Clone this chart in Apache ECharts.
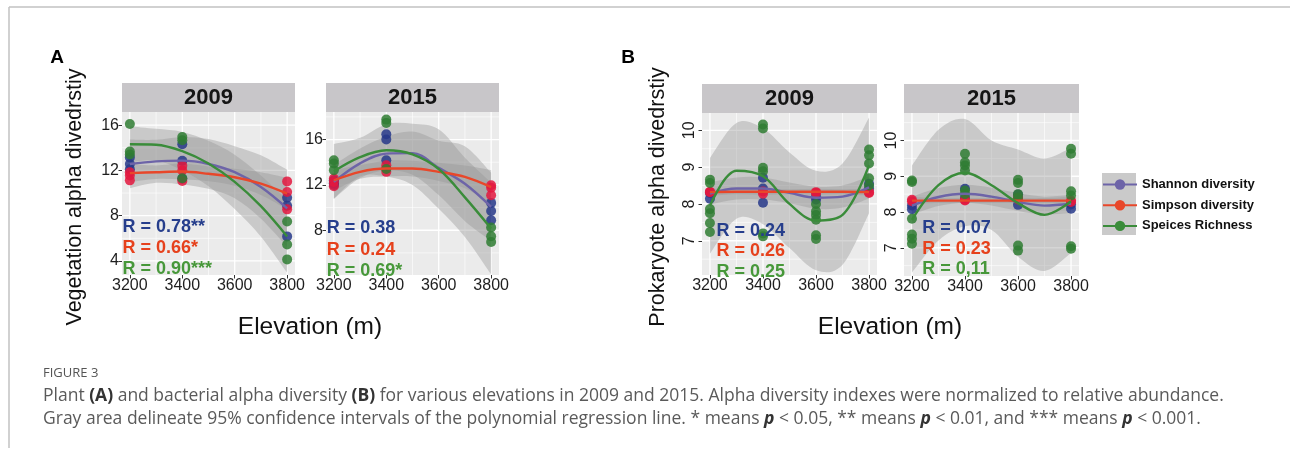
<!DOCTYPE html>
<html><head><meta charset="utf-8">
<script src="https://cdn.jsdelivr.net/npm/echarts@6/dist/echarts.min.js"></script>
<style>html,body{margin:0;padding:0;background:#fff}#c{width:1290px;height:452px}</style>
</head><body><div id="c"></div><script>
// ---------------- DATA ----------------
const elevations = [3200, 3300, 3400, 3500, 3600, 3700, 3800];
const metricNames = ['Shannon diversity', 'Simpson diversity', 'Speices Richness'];
const xTickValues = [3200, 3400, 3600, 3800];
const xMinorValues = [3300, 3500, 3700];
const yTicksA09 = [4, 8, 12, 16];   const yMinorA09 = [6, 10, 14];
const yTicksA15 = [8, 12, 16];      const yMinorA15 = [6, 10, 14, 18];
const yTicksB09 = [7, 8, 9, 10];    const yMinorB09 = [6.5, 7.5, 8.5, 9.5];
const yTicksB15 = [7, 8, 9, 10];    const yMinorB15 = [6.5, 7.5, 8.5, 9.5, 10.5];
const panelYears = ['2009', '2015', '2009', '2015'];

// Observed points [elevation, value]
const ptsA09Shannon  = [[3200,13.15],[3200,12.57],[3200,12.1],[3400,14.31],[3400,12.86],[3400,11.26],[3800,9.58],[3800,8.88],[3800,6.17]];
const ptsA09Simpson  = [[3200,11.84],[3200,11.55],[3200,11.12],[3400,12.42],[3400,11.99],[3400,11.06],[3800,11.03],[3800,10.1],[3800,8.56]];
const ptsA09Richness = [[3200,16.1],[3200,13.67],[3200,13.4],[3400,14.95],[3400,14.66],[3400,11.3],[3800,7.48],[3800,5.45],[3800,4.14]];

const ptsA15Shannon  = [[3200,12.4],[3200,12.15],[3200,12.0],[3400,16.47],[3400,16.0],[3400,14.18],[3800,10.41],[3800,9.7],[3800,8.88]];
const ptsA15Simpson  = [[3200,12.56],[3200,12.26],[3200,11.88],[3400,13.74],[3400,13.44],[3400,13.15],[3800,11.97],[3800,11.75],[3800,11.09]];
const ptsA15Richness = [[3200,14.18],[3200,13.88],[3200,13.3],[3400,17.76],[3400,17.47],[3400,13.4],[3800,8.24],[3800,7.47],[3800,6.97]];

const ptsB09Shannon  = [[3200,8.14],[3200,8.3],[3400,8.71],[3400,8.42],[3400,8.03],[3600,8.12],[3600,8.2],[3800,8.55],[3800,8.42]];
const ptsB09Simpson  = [[3200,8.32],[3200,8.33],[3400,8.28],[3400,8.34],[3600,8.32],[3600,8.3],[3800,8.3],[3800,8.32]];
const ptsB09Richness = [[3200,8.66],[3200,8.57],[3200,7.86],[3200,7.75],[3200,7.48],[3200,7.24],
                        [3400,10.16],[3400,10.05],[3400,8.98],[3400,8.89],[3400,7.2],[3400,7.12],
                        [3600,8.0],[3600,7.8],[3600,7.7],[3600,7.57],[3600,7.15],[3600,7.05],
                        [3800,9.48],[3800,9.32],[3800,9.1],[3800,8.7],[3800,8.5]];

const ptsB15Shannon  = [[3200,8.18],[3200,8.08],[3400,8.65],[3400,8.4],[3600,8.49],[3600,8.2],[3800,8.21],[3800,8.09]];
const ptsB15Simpson  = [[3200,8.34],[3200,8.3],[3400,8.34],[3400,8.32],[3600,8.4],[3600,8.35],[3800,8.32],[3800,8.28]];
const ptsB15Richness = [[3200,8.88],[3200,8.84],[3200,7.81],[3200,7.37],[3200,7.25],[3200,7.11],
                        [3400,9.63],[3400,9.39],[3400,9.3],[3400,9.16],[3400,8.6],[3400,8.5],
                        [3600,8.9],[3600,8.81],[3600,8.5],[3600,8.4],[3600,7.06],[3600,6.92],
                        [3800,9.77],[3800,9.63],[3800,8.58],[3800,8.46],[3800,7.04],[3800,6.97]];

// Regression lines and 95% CI bands read at each elevation in `elevations`
const fitA09Shannon  = [12.57, 12.8, 12.86, 12.57, 11.84, 10.53, 8.65];
const loA09Shannon   = [10.42, 10.9, 10.76, 10.37, 9.54, 7.73, 5.25];
const hiA09Shannon   = [14.72, 14.7, 14.96, 14.77, 14.14, 13.33, 12.05];
const fitA09Simpson  = [11.76, 11.84, 11.9, 11.7, 11.4, 10.83, 9.95];
const loA09Simpson   = [10.96, 11.24, 11.2, 11.05, 10.65, 9.83, 8.55];
const hiA09Simpson   = [12.56, 12.44, 12.6, 12.35, 12.15, 11.83, 11.35];
const fitA09Richness = [14.31, 14.27, 13.7, 12.61, 10.99, 8.84, 6.17];
const loA09Richness  = [12.71, 12.87, 12.0, 10.61, 8.59, 6.14, 2.97];
const hiA09Richness  = [15.91, 15.67, 15.4, 14.61, 13.39, 11.54, 9.37];

const fitA15Shannon  = [12.26, 13.9, 14.76, 14.8, 13.5, 12.1, 10.06];
const loA15Shannon   = [10.76, 12.6, 13.26, 12.9, 11.1, 8.8, 7.06];
const hiA15Shannon   = [13.76, 15.2, 16.26, 16.7, 15.9, 15.4, 13.06];
const fitA15Simpson  = [12.4, 13.15, 13.44, 13.44, 13.15, 12.7, 11.8];
const loA15Simpson   = [11.5, 12.55, 12.74, 12.74, 12.35, 11.7, 10.3];
const hiA15Simpson   = [13.3, 13.75, 14.14, 14.14, 13.95, 13.7, 13.3];
const fitA15Richness = [13.2, 14.45, 15.05, 14.7, 13.4, 10.9, 8.15];
const loA15Richness  = [10.8, 12.75, 12.75, 12.0, 9.9, 7.4, 4.1];
const hiA15Richness  = [15.6, 16.15, 17.35, 17.4, 16.9, 14.4, 12.2];

const fitB09Shannon  = [8.28, 8.42, 8.42, 8.3, 8.17, 8.2, 8.45];
const loB09Shannon   = [7.98, 8.12, 8.12, 8.02, 7.87, 7.9, 8.15];
const hiB09Shannon   = [8.58, 8.72, 8.72, 8.58, 8.47, 8.5, 8.75];
const fitB09Simpson  = [8.32, 8.33, 8.33, 8.33, 8.33, 8.33, 8.32];
const loB09Simpson   = [8.22, 8.26, 8.25, 8.26, 8.25, 8.26, 8.22];
const hiB09Simpson   = [8.42, 8.4, 8.41, 8.4, 8.41, 8.4, 8.42];
const fitB09Richness = [7.95, 8.9, 8.75, 8.0, 7.55, 7.7, 9.05];
const loB09Richness  = [6.65, 7.6, 7.45, 6.8, 6.2, 6.35, 7.75];
const hiB09Richness  = [9.25, 10.2, 10.05, 9.4, 8.9, 9.1, 10.35];

const fitB15Shannon  = [8.18, 8.42, 8.51, 8.43, 8.28, 8.18, 8.23];
const loB15Shannon   = [7.93, 8.17, 8.26, 8.18, 8.03, 7.93, 7.98];
const hiB15Shannon   = [8.43, 8.67, 8.76, 8.68, 8.53, 8.43, 8.48];
const fitB15Simpson  = [8.32, 8.32, 8.32, 8.32, 8.32, 8.32, 8.32];
const loB15Simpson   = [8.22, 8.25, 8.25, 8.25, 8.25, 8.25, 8.22];
const hiB15Simpson   = [8.42, 8.39, 8.39, 8.39, 8.39, 8.39, 8.42];
const fitB15Richness = [7.78, 8.75, 9.1, 8.75, 8.25, 7.92, 8.3];
const loB15Richness  = [6.3, 7.2, 7.6, 7.5, 6.75, 6.35, 6.85];
const hiB15Richness  = [9.3, 10.3, 10.6, 10.0, 9.75, 9.5, 9.8];

const rA09 = ['R = 0.78**', 'R = 0.66*', 'R = 0.90***'];
const rA15 = ['R = 0.38', 'R = 0.24', 'R = 0.69*'];
const rB09 = ['R = 0.24', 'R = 0.26', 'R = 0.25'];
const rB15 = ['R = 0.07', 'R = 0.23', 'R = 0,11'];

// ---------------- STYLE / LAYOUT ----------------
const FONT = 'Liberation Sans, Arial, sans-serif';
const ptColors   = ['#27388a', '#e3173e', '#2f7d33'];
const lineColors = ['#6d64a8', '#e8472a', '#3a8c3a'];
const rColors    = ['#263e8c', '#e6411c', '#47983a'];
const bandFill = 'rgba(150,150,150,0.4)';

const panels = [
  {left:122, top:112, width:173, height:163, ymin:2.76, ymax:17.16, yTicks:yTicksA09, yMinor:yMinorA09, rot:0,
   pts:[ptsA09Shannon, ptsA09Simpson, ptsA09Richness], fit:[fitA09Shannon, fitA09Simpson, fitA09Richness],
   lo:[loA09Shannon, loA09Simpson, loA09Richness], hi:[hiA09Shannon, hiA09Simpson, hiA09Richness],
   r:rA09, rx:3172, ry:[7.0, 5.18, 3.32]},
  {left:326, top:112, width:173, height:163, ymin:4.05, ymax:18.43, yTicks:yTicksA15, yMinor:yMinorA15, rot:0,
   pts:[ptsA15Shannon, ptsA15Simpson, ptsA15Richness], fit:[fitA15Shannon, fitA15Simpson, fitA15Richness],
   lo:[loA15Shannon, loA15Simpson, loA15Richness], hi:[hiA15Shannon, hiA15Simpson, hiA15Richness],
   r:rA15, rx:3173, ry:[8.2, 6.28, 4.42]},
  {left:702, top:113, width:175, height:162, ymin:6.07, ymax:10.47, yTicks:yTicksB09, yMinor:yMinorB09, rot:90,
   pts:[ptsB09Shannon, ptsB09Simpson, ptsB09Richness], fit:[fitB09Shannon, fitB09Simpson, fitB09Richness],
   lo:[loB09Shannon, loB09Simpson, loB09Richness], hi:[hiB09Shannon, hiB09Simpson, hiB09Richness],
   r:rB09, rx:3225, ry:[7.27, 6.72, 6.16]},
  {left:904, top:113, width:175, height:163, ymin:6.21, ymax:10.77, yTicks:yTicksB15, yMinor:yMinorB15, rot:90,
   pts:[ptsB15Shannon, ptsB15Simpson, ptsB15Richness], fit:[fitB15Shannon, fitB15Simpson, fitB15Richness],
   lo:[loB15Shannon, loB15Simpson, loB15Richness], hi:[hiB15Shannon, hiB15Simpson, hiB15Richness],
   r:rB15, rx:3239, ry:[7.56, 6.96, 6.40]}
];

// Catmull-Rom rendering of a pixel polyline as cubic Bezier path segments
function splineSegments(pts) {
  let d = '';
  for (let k = 0; k < pts.length - 1; k++) {
    const p0 = pts[Math.max(k - 1, 0)], p1 = pts[k], p2 = pts[k + 1], p3 = pts[Math.min(k + 2, pts.length - 1)];
    const c1 = [p1[0] + (p2[0] - p0[0]) / 6, p1[1] + (p2[1] - p0[1]) / 6];
    const c2 = [p2[0] - (p3[0] - p1[0]) / 6, p2[1] - (p3[1] - p1[1]) / 6];
    d += ' C' + c1[0].toFixed(2) + ' ' + c1[1].toFixed(2) + ' ' + c2[0].toFixed(2) + ' ' + c2[1].toFixed(2) +
         ' ' + p2[0].toFixed(2) + ' ' + p2[1].toFixed(2);
  }
  return d;
}

const grids = [], xAxes = [], yAxes = [], series = [], graphics = [];
const tickFmt = v => String(v);

panels.forEach((p, i) => {
  grids.push({left:p.left, top:p.top, width:p.width, height:p.height, show:true,
              backgroundColor:'#ebebeb', borderWidth:0, containLabel:false});
  xAxes.push({gridIndex:i, type:'value', min:3170, max:3830,
    axisLine:{show:false}, splitLine:{show:false},
    axisTick:{show:true, length:3.5, customValues:xTickValues, lineStyle:{color:'#333', width:1}},
    axisLabel:{customValues:xTickValues, formatter:tickFmt, fontFamily:FONT, fontSize:16, color:'#1e1e1e', margin:3}});
  yAxes.push({gridIndex:i, type:'value', min:p.ymin, max:p.ymax,
    axisLine:{show:false}, splitLine:{show:false},
    axisTick:{show:true, length:3.5, customValues:p.yTicks, lineStyle:{color:'#333', width:1}},
    axisLabel:{customValues:p.yTicks, formatter:tickFmt, fontFamily:FONT, fontSize:16, color:'#1e1e1e',
               margin:p.rot ? 4 : 3, rotate:p.rot}});

  // gridlines
  const gl = [];
  xTickValues.forEach(v => gl.push([v, 0, 1]));
  xMinorValues.forEach(v => gl.push([v, 0, 0]));
  p.yTicks.forEach(v => gl.push([v, 1, 1]));
  p.yMinor.forEach(v => gl.push([v, 1, 0]));
  series.push({type:'custom', name:'gridlines' + i, xAxisIndex:i, yAxisIndex:i, z:1, silent:true,
    data: gl,
    renderItem: (params, api) => {
      const v = api.value(0), kind = api.value(1), major = api.value(2);
      const cs = params.coordSys;
      let shape;
      if (kind === 0) {
        const px = api.coord([v, (p.ymin + p.ymax) / 2])[0];
        shape = {x1:px, y1:cs.y, x2:px, y2:cs.y + cs.height};
      } else {
        const py = api.coord([3500, v])[1];
        shape = {x1:cs.x, y1:py, x2:cs.x + cs.width, y2:py};
      }
      return {type:'line', shape, style:{stroke:'#ffffff', lineWidth: major ? 1.3 : 0.6}};
    }});

  // confidence bands
  for (let m = 0; m < 3; m++) {
    const lo = p.lo[m], hi = p.hi[m];
    series.push({type:'custom', name:'band' + i + '_' + m, xAxisIndex:i, yAxisIndex:i, z:2, silent:true, clip:true,
      data: elevations.map((x, k) => [x, lo[k], hi[k]]),
      renderItem: (params, api) => {
        if (params.dataIndex !== 0) return null;
        const up = elevations.map((x, k) => api.coord([x, hi[k]]));
        const dn = elevations.map((x, k) => api.coord([x, lo[k]])).reverse();
        const d = 'M' + up[0][0] + ' ' + up[0][1] + splineSegments(up) +
                  ' L' + dn[0][0] + ' ' + dn[0][1] + splineSegments(dn) + ' Z';
        return {type:'path', shape:{pathData:d}, style:{fill:bandFill, stroke:null}};
      }});
  }
  for (let m = 0; m < 3; m++) {
    series.push({type:'scatter', name:'pts' + i + '_' + m, xAxisIndex:i, yAxisIndex:i, z:3, silent:true,
      symbolSize:10, itemStyle:{color:ptColors[m], opacity:0.85}, data:p.pts[m]});
  }
  for (let m = 0; m < 3; m++) {
    series.push({type:'line', name:metricNames[m], xAxisIndex:i, yAxisIndex:i, z:4, silent:true,
      smooth:0.35, showSymbol:false, symbol:'circle',
      lineStyle:{color:lineColors[m], width:2.4}, itemStyle:{color:lineColors[m]},
      data: elevations.map((x, k) => [x, p.fit[m][k]])});
  }

  // strip header
  graphics.push({type:'rect', shape:{x:p.left, y:p.top - 29, width:p.width, height:29},
    style:{fill:'#c8c6c9'}, z:0});
  graphics.push({type:'text', x:p.left + p.width / 2, y:p.top - 14.5,
    style:{text:panelYears[i], fontFamily:FONT, fontWeight:'bold', fontSize:22, fill:'#151515',
           textAlign:'center', textVerticalAlign:'middle'}});
});

// frame lines
graphics.push({type:'line', shape:{x1:9, y1:7, x2:1290, y2:7}, style:{stroke:'#c2c2c2', lineWidth:1.5}});
graphics.push({type:'line', shape:{x1:9, y1:7, x2:9, y2:448}, style:{stroke:'#c2c2c2', lineWidth:1.5}});
// panel letters
graphics.push({type:'text', x:57, y:58, style:{text:'A', fontFamily:FONT, fontWeight:'bold', fontSize:19, fill:'#000', textAlign:'center', textVerticalAlign:'middle'}});
graphics.push({type:'text', x:628, y:58, style:{text:'B', fontFamily:FONT, fontWeight:'bold', fontSize:19, fill:'#000', textAlign:'center', textVerticalAlign:'middle'}});
// axis titles
graphics.push({type:'text', x:75, y:197, rotation:Math.PI / 2,
  style:{text:'Vegetation alpha divedrstiy', fontFamily:FONT, fontSize:21.5, fill:'#111', textAlign:'center', textVerticalAlign:'middle'}});
graphics.push({type:'text', x:658, y:197, rotation:Math.PI / 2,
  style:{text:'Prokaryote alpha divedrstiy', fontFamily:FONT, fontSize:21.5, fill:'#111', textAlign:'center', textVerticalAlign:'middle'}});
graphics.push({type:'text', x:310, y:327,
  style:{text:'Elevation (m)', fontFamily:FONT, fontSize:24.5, fill:'#111', textAlign:'center', textVerticalAlign:'middle'}});
graphics.push({type:'text', x:890, y:327,
  style:{text:'Elevation (m)', fontFamily:FONT, fontSize:24.5, fill:'#111', textAlign:'center', textVerticalAlign:'middle'}});
// legend key background
graphics.push({type:'rect', shape:{x:1102, y:173, width:34, height:62}, style:{fill:'#cacaca'}, z:0});
// caption
const CAP = 'Open Sans, sans-serif';
graphics.push({type:'text', x:43, y:373, style:{text:'FIGURE 3', fontFamily:CAP, fontSize:13, fill:'#555',
  textVerticalAlign:'middle'}});
graphics.push({type:'text', x:43, y:396, style:{
  text:'Plant {b|(A)} and bacterial alpha diversity {b|(B)} for various elevations in 2009 and 2015. Alpha diversity indexes were normalized to relative abundance.',
  fontFamily:CAP, fontSize:17.5, fill:'#5a5a5a', textVerticalAlign:'middle',
  rich:{b:{fontFamily:CAP, fontSize:17.5, fontWeight:'bold', fill:'#333'}}}});
graphics.push({type:'text', x:43, y:419, style:{
  text:'Gray area delineate 95% confidence intervals of the polynomial regression line. * means {p|p} < 0.05, ** means {p|p} < 0.01, and *** means {p|p} < 0.001.',
  fontFamily:CAP, fontSize:17.5, fill:'#5a5a5a', textVerticalAlign:'middle',
  rich:{p:{fontFamily:CAP, fontSize:17.5, fontWeight:'bold', fontStyle:'italic', fill:'#333'}}}});

const chart = echarts.init(document.getElementById('c'), null, {renderer:'canvas'});
chart.setOption({
  animation:false,
  backgroundColor:'#ffffff',
  grid:grids, xAxis:xAxes, yAxis:yAxes,
  legend:{data:metricNames, orient:'vertical', left:1097, top:173, padding:5, itemWidth:34, itemHeight:13, itemGap:7.7,
    selectedMode:false, textStyle:{fontFamily:FONT, fontWeight:'bold', fontSize:13, color:'#111'}},
  series:series,
  graphic:{elements:graphics}
});

// R annotations placed in data coordinates through the chart's own scales
const rGraphics = [];
panels.forEach((p, i) => {
  p.r.forEach((t, m) => {
    const px = chart.convertToPixel({gridIndex:i}, [p.rx, p.ry[m]]);
    rGraphics.push({type:'text', x:px[0], y:px[1], z:10,
      style:{text:t, fontFamily:FONT, fontWeight:'bold', fontSize:18, fill:rColors[m], textVerticalAlign:'middle'}});
  });
});
chart.setOption({graphic:{elements:graphics.concat(rGraphics)}}, {replaceMerge:['graphic']});
</script></body></html>
